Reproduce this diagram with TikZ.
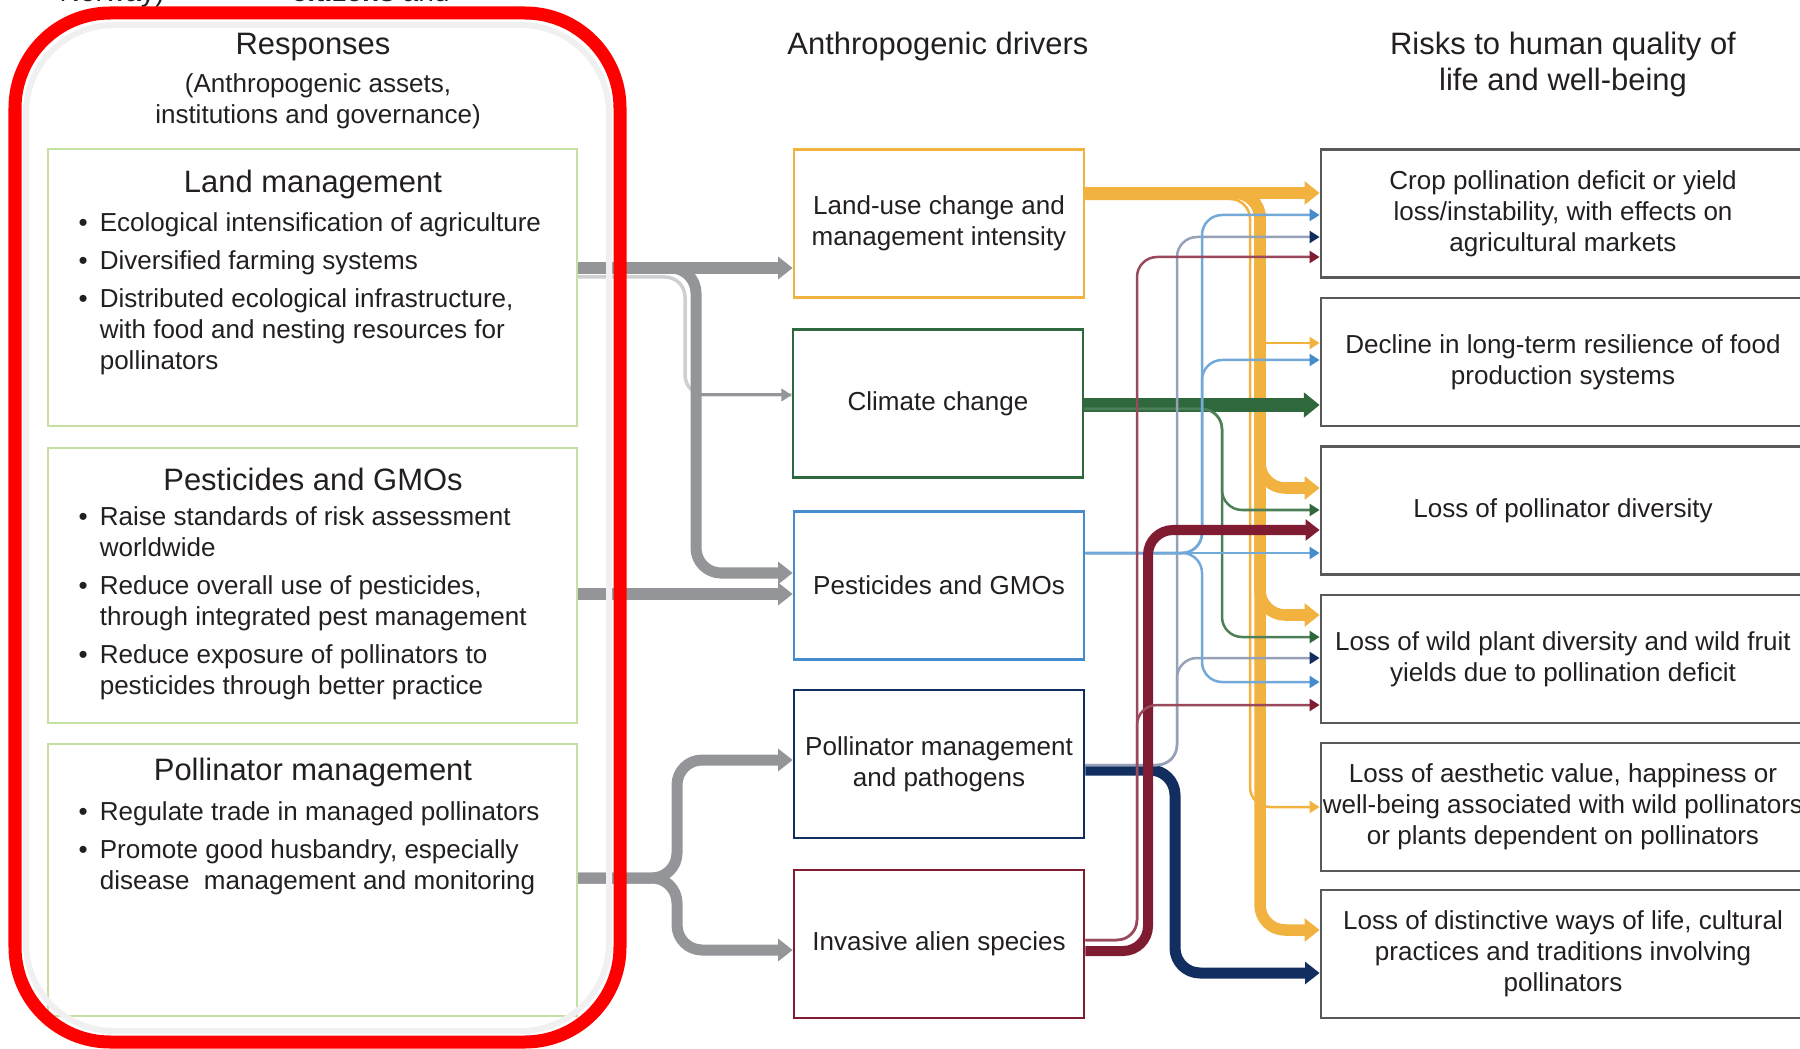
\documentclass[tikz,border=0pt]{standalone}
\usepackage{fontspec}
\setmainfont{Liberation Sans}
\usetikzlibrary{arrows.meta}
\tikzset{> = {Triangle[length=2.5pt 0.53, width=2.6pt 1.16]}}

\definecolor{txt}{RGB}{35,31,32}
\definecolor{lugold}{RGB}{241,178,64}
\definecolor{ccgreen}{RGB}{46,104,60}
\definecolor{pgblue}{RGB}{68,140,204}
\definecolor{pmnavy}{RGB}{18,46,96}
\definecolor{iasred}{RGB}{128,28,50}
\definecolor{conngray}{RGB}{147,149,152}
\definecolor{boxgreen}{RGB}{198,224,162}
\definecolor{riskgray}{RGB}{88,89,91}

\newcommand{\txtsize}{\fontsize{7.4pt}{8.8pt}\selectfont}
\newcommand{\headsize}{\fontsize{8.8pt}{10.2pt}\selectfont}
\newcommand{\bul}{\makebox[6pt][l]{\textbullet}}
\newcommand{\bulgap}{\hspace*{6pt}}

\begin{document}
\begin{tikzpicture}[x=0.01cm, y=-0.01cm, text=txt, font=\txtsize,
  lbox/.style={draw=boxgreen, line width=0.02cm, minimum width=5.29cm, inner sep=0pt},
  dbox/.style={draw=#1, line width=0.025cm, minimum width=2.9cm, minimum height=1.48cm, align=center, inner sep=0pt},
  rbox/.style={draw=riskgray, line width=0.025cm, minimum width=4.84cm, minimum height=1.28cm, align=center, inner sep=0pt},
  head/.style={font=\headsize, anchor=base, inner sep=0pt},
  blist/.style={anchor=base west, inner sep=0pt},
  gconn/.style={draw=conngray, line width=0.11cm, rounded corners=0.25cm},
  fat/.style={line width=0.115cm, rounded corners=0.25cm},
  slim/.style 2 args={draw=#1, line width=0.025cm, rounded corners=0.2cm,
    -{Triangle[length=2.5pt 0.53, width=2.6pt 1.16, color=#2]}}]

\useasboundingbox (0,0) rectangle (1800,1049);
\clip (0,0) rectangle (1800,1049);

% cut-off text at the top
\node[anchor=base west, inner sep=0pt, font=\fontsize{8pt}{9pt}\selectfont] (cuta) at (59,2) {Norway)};
\node[anchor=base west, inner sep=0pt, font=\fontsize{8pt}{9pt}\selectfont] (cutb) at (291,2) {\textbf{citizens} and};

% headers
\node[head] (hresp) at (313,55) {Responses};
\node[anchor=base, inner sep=0pt, font=\fontsize{7.4pt}{8.6pt}\selectfont] (hsub) at (318,93)
  {\begin{tabular}[t]{@{}c@{}}(Anthropogenic assets,\\institutions and governance)\end{tabular}};
\node[head] (hdrv) at (938,55) {Anthropogenic drivers};
\node[head] (hrisk) at (1563,55) {\begin{tabular}[t]{@{}c@{}}Risks to human quality of\\life and well-being\end{tabular}};

% nodes: responses
\node[lbox, minimum height=2.77cm] (lmresp) at (312.5,287.5) {};
\node[head] (lmtitle) at (313,193) {Land management};
\node[blist] (lmitems) at (78,231.5) {\begin{tabular}[t]{@{}l@{}}
  \bul Ecological intensification of agriculture\\[2pt]
  \bul Diversified farming systems\\[2pt]
  \bul Distributed ecological infrastructure,\\
  \bulgap with food and nesting resources for\\
  \bulgap pollinators
\end{tabular}};

\node[lbox, minimum height=2.75cm] (pgresp) at (312.5,585.5) {};
\node[head] (pgtitle) at (313,491) {Pesticides and GMOs};
\node[blist] (pgitems) at (78,525.5) {\begin{tabular}[t]{@{}l@{}}
  \bul Raise standards of risk assessment\\
  \bulgap worldwide\\[2pt]
  \bul Reduce overall use of pesticides,\\
  \bulgap through integrated pest management\\[2pt]
  \bul Reduce exposure of pollinators to\\
  \bulgap pesticides through better practice
\end{tabular}};

\node[lbox, minimum height=2.72cm] (pmresp) at (312.5,880) {};
\node[head] (pmtitle) at (313,780) {Pollinator management};
\node[blist] (pmitems) at (78,820.5) {\begin{tabular}[t]{@{}l@{}}
  \bul Regulate trade in managed pollinators\\[2pt]
  \bul Promote good husbandry, especially\\
  \bulgap disease\ \ management and monitoring
\end{tabular}};

% nodes: drivers
\node[dbox=lugold] (lud) at (939,223.5) {Land-use change and\\management intensity};
\node[dbox=ccgreen] (ccd) at (938,403.5) {Climate change};
\node[dbox=pgblue] (pgd) at (939,585.5) {Pesticides and GMOs};
\node[dbox=pmnavy] (pmd) at (939,764) {Pollinator management\\and pathogens};
\node[dbox=iasred] (iasd) at (939,944) {Invasive alien species};

% nodes: risks
\node[rbox] (r1) at (1563,213.5) {Crop pollination deficit or yield\\loss/instability, with effects on\\agricultural markets};
\node[rbox] (r2) at (1563,362) {Decline in long-term resilience of food\\production systems};
\node[rbox] (r3) at (1563,510.5) {Loss of pollinator diversity};
\node[rbox] (r4) at (1563,659) {Loss of wild plant diversity and wild fruit\\yields due to pollination deficit};
\node[rbox] (r5) at (1563,807) {Loss of aesthetic value, happiness or\\well-being associated with wild pollinators\\or plants dependent on pollinators};
\node[rbox] (r6) at (1563,954) {Loss of distinctive ways of life, cultural\\practices and traditions involving\\pollinators};

\coordinate (cctap) at (696,395);
\coordinate (otap) at (1262,343);

% edges: responses -> drivers
\draw[gconn, draw=conngray!45, line width=0.035cm, rounded corners=0.2cm]
  (lmresp.east |- 0,277) -- (685,277) -- (685,395) -- (ccd.west |- 0,395);
\draw[conngray, line width=0.03cm, ->] (cctap) -- (ccd.west |- cctap);
\draw[gconn, ->] (lmresp.east |- 0,268) -- (696,268) -- (696,573) -- (pgd.west |- 0,573);
\draw[gconn, ->] (lmresp.east |- 0,268) -- (lud.west |- 0,268);
\draw[gconn, ->] (pgresp.east |- 0,594) -- (pgd.west |- 0,594);
\draw[gconn, ->] (pmresp.east |- 0,878) -- (677,878) -- (677,760) -- (pmd.west |- 0,760);
\draw[gconn, ->] (pmresp.east |- 0,878) -- (677,878) -- (677,950) -- (iasd.west |- 0,950);

% edges: drivers -> risks
\draw[fat, lugold, ->] (lud.east |- 0,193) -- (r1.west |- 0,193);
\draw[fat, lugold, ->] (lud.east |- 0,193) -- (1260,193) -- (1260,488) -- (r3.west |- 0,488);
\draw[fat, lugold, ->] (lud.east |- 0,193) -- (1260,193) -- (1260,615) -- (r4.west |- 0,615);
\draw[fat, lugold, ->] (lud.east |- 0,193) -- (1260,193) -- (1260,930) -- (r6.west |- 0,930);
\draw[slim={lugold}{lugold}] (lud.east |- 0,199) -- (1250,199) -- (1250,807) -- (r5.west |- 0,807);
\draw[slim={lugold}{lugold}] (otap) -- (r2.west |- otap);

\draw[fat, ccgreen, line width=0.13cm, ->] (ccd.east |- 0,405) -- (r2.west |- 0,405);
\draw[slim={ccgreen!85}{ccgreen}] (ccd.east |- 0,409) -- (1222,409) -- (1222,510) -- (r3.west |- 0,510);
\draw[slim={ccgreen!85}{ccgreen}] (ccd.east |- 0,409) -- (1222,409) -- (1222,637) -- (r4.west |- 0,637);

\draw[fat, pmnavy, line width=0.11cm, ->] (pmd.east |- 0,770) -- (1175,770) -- (1175,973) -- (r6.west |- 0,973);
\draw[slim={pmnavy!45}{pmnavy}] (pmd.east |- 0,765) -- (1177,765) -- (1177,237) -- (r1.west |- 0,237);
\draw[slim={pmnavy!45}{pmnavy}] (pmd.east |- 0,765) -- (1177,765) -- (1177,658) -- (r4.west |- 0,658);

\draw[slim={pgblue!75}{pgblue}] (pgd.east |- 0,553) -- (r3.west |- 0,553);
\draw[slim={pgblue!75}{pgblue}] (pgd.east |- 0,553) -- (1202,553) -- (1202,215) -- (r1.west |- 0,215);
\draw[slim={pgblue!75}{pgblue}] (pgd.east |- 0,553) -- (1202,553) -- (1202,360) -- (r2.west |- 0,360);
\draw[slim={pgblue!75}{pgblue}] (pgd.east |- 0,553) -- (1202,553) -- (1202,682) -- (r4.west |- 0,682);

\draw[fat, iasred, line width=0.10cm, ->] (iasd.east |- 0,951) -- (1148,951) -- (1148,530) -- (r3.west |- 0,530);
\draw[slim={iasred!80}{iasred}] (iasd.east |- 0,940) -- (1137,940) -- (1137,257) -- (r1.west |- 0,257);
\draw[slim={iasred!80}{iasred}] (iasd.east |- 0,940) -- (1137,940) -- (1137,705) -- (r4.west |- 0,705);

% red frame round the responses
\draw[gray!12, line width=0.06cm, rounded corners=0.88cm] (26,25) rectangle (609,1031);
\draw[red, line width=0.13cm, rounded corners=0.95cm] (15,13) rectangle (620,1042);

\end{tikzpicture}
\end{document}
